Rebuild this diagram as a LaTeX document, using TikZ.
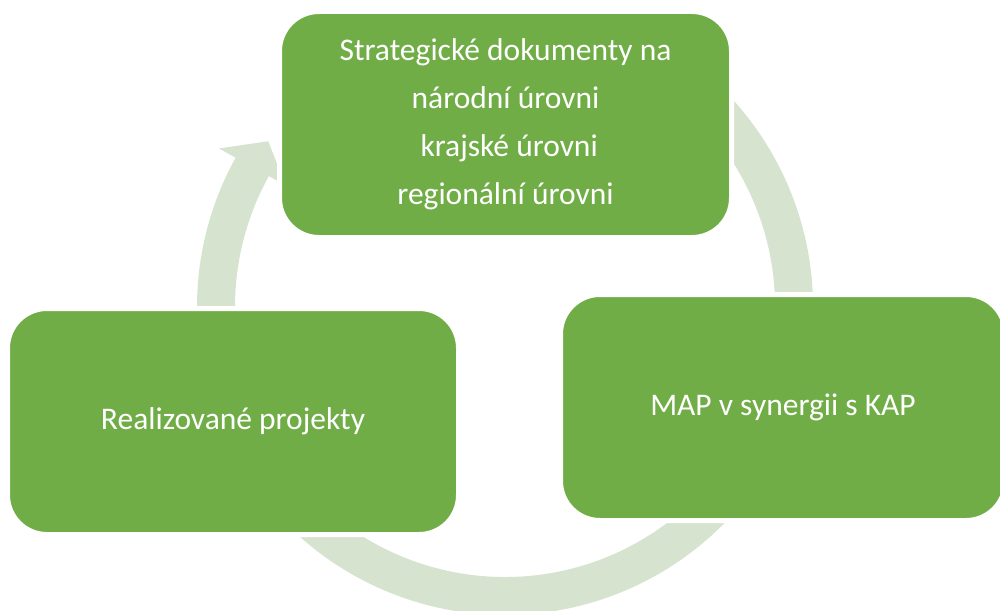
\documentclass[tikz,border=0pt]{standalone}
\usepackage{fontspec}
\setmainfont{Carlito}
\definecolor{boxgreen}{HTML}{70AD47}
\definecolor{arcgreen}{RGB}{214,227,207}
\begin{document}
\begin{tikzpicture}[x=1pt,y=1pt,
  box/.style={rounded corners=39.5pt, fill=boxgreen, draw=white, line width=5pt,
    text=white, align=center, font=\fontsize{31.5}{48}\selectfont, inner sep=0pt},
  cyclearrow/.style={fill=arcgreen}]
\useasboundingbox (0,0) rectangle (1000,-610);
\coordinate (O) at (505,-307);
% left arrow: Realizované projekty -> Strategické dokumenty
\fill[cyclearrow, shift={(O)}] (190:308) arc[start angle=190, end angle=151, radius=308]
  -- (151:327) -- (145:289) -- (151:251) -- (151:270)
  arc[start angle=151, end angle=190, radius=270] -- cycle;
% right arrow: Strategické dokumenty -> MAP
\fill[cyclearrow, shift={(O)}] (65:308) arc[start angle=65, end angle=-20, radius=308]
  -- (-20:327) -- (-26:289) -- (-20:251) -- (-20:270)
  arc[start angle=-20, end angle=65, radius=270] -- cycle;
% bottom arrow: MAP -> Realizované projekty
\fill[cyclearrow, shift={(O)}] (-30:308) arc[start angle=-30, end angle=-140, radius=308]
  -- (-140:327) -- (-146:289) -- (-140:251) -- (-140:270)
  arc[start angle=-140, end angle=-30, radius=270] -- cycle;
% boxes
\node[box, minimum width=452pt, minimum height=226pt] (strat) at (505.5,-124.5)
  {Strategické dokumenty na\\národní úrovni\\\hspace*{0.23em}krajské úrovni\\regionální úrovni};
\node[box, minimum width=451pt, minimum height=226pt] (real) at (233,-421.5)
  {Realizované projekty};
\node[box, minimum width=445pt, minimum height=226pt] (map) at (783,-407.5)
  {MAP v synergii s KAP};
\end{tikzpicture}
\end{document}
